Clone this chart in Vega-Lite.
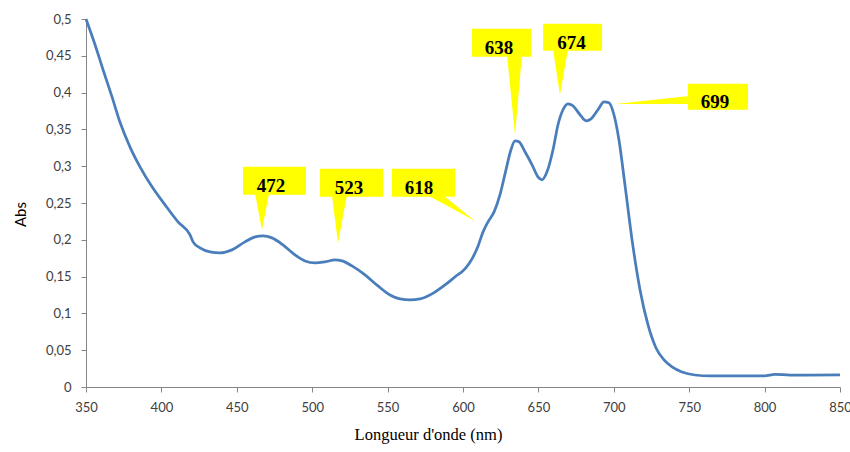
{
  "$schema": "https://vega.github.io/schema/vega-lite/v6.json",
  "width": 754,
  "height": 368,
  "autosize": {"type": "none"},
  "padding": {"left": 86, "top": 19, "right": 10, "bottom": 65},
  "background": "white",
  "config": {
    "view": {"stroke": null},
    "axis": {
      "grid": false,
      "domainColor": "#868686",
      "tickColor": "#868686",
      "tickSize": 5,
      "labelColor": "#404040",
      "labelFont": "Lato",
      "labelFontSize": 13,
      "labelOverlap": false,
      "labelFlush": false,
      "titleColor": "#000000",
      "titleFontWeight": "normal"
    },
    "axisY": {"titleFont": "Lato", "titleFontSize": 15}
  },
  "datasets": {
    "curve": [
      {"nm": 350, "abs": 0.5},
      {"nm": 356.0, "abs": 0.465},
      {"nm": 361.3, "abs": 0.4311},
      {"nm": 367.2, "abs": 0.3945},
      {"nm": 372.5, "abs": 0.3600},
      {"nm": 379.2, "abs": 0.3260},
      {"nm": 385.8, "abs": 0.2992},
      {"nm": 393.8, "abs": 0.272},
      {"nm": 402.4, "abs": 0.2475},
      {"nm": 411.0, "abs": 0.2244},
      {"nm": 419.0, "abs": 0.2067},
      {"nm": 421.0, "abs": 0.1972},
      {"nm": 425.6, "abs": 0.189},
      {"nm": 432.2, "abs": 0.1836},
      {"nm": 438.9, "abs": 0.1822},
      {"nm": 446.8, "abs": 0.1863},
      {"nm": 455.4, "abs": 0.1972},
      {"nm": 462.1, "abs": 0.204},
      {"nm": 467.4, "abs": 0.2053},
      {"nm": 473.3, "abs": 0.2026},
      {"nm": 480.6, "abs": 0.1931},
      {"nm": 488.6, "abs": 0.1795},
      {"nm": 495.2, "abs": 0.1713},
      {"nm": 501.9, "abs": 0.1686},
      {"nm": 508.5, "abs": 0.17},
      {"nm": 515.1, "abs": 0.1727},
      {"nm": 519.8, "abs": 0.1713},
      {"nm": 526.4, "abs": 0.1645},
      {"nm": 535.0, "abs": 0.1523},
      {"nm": 543.6, "abs": 0.1373},
      {"nm": 551.6, "abs": 0.1251},
      {"nm": 558.2, "abs": 0.1197},
      {"nm": 564.9, "abs": 0.1183},
      {"nm": 571.5, "abs": 0.1197},
      {"nm": 579.4, "abs": 0.1265},
      {"nm": 588.1, "abs": 0.1387},
      {"nm": 594.7, "abs": 0.1496},
      {"nm": 601.3, "abs": 0.1605},
      {"nm": 606.0, "abs": 0.1741},
      {"nm": 610.0, "abs": 0.1917},
      {"nm": 613.3, "abs": 0.2108},
      {"nm": 616.6, "abs": 0.2244},
      {"nm": 620.6, "abs": 0.238},
      {"nm": 624.5, "abs": 0.2611},
      {"nm": 628.5, "abs": 0.2951},
      {"nm": 631.8, "abs": 0.3223},
      {"nm": 634.5, "abs": 0.3345},
      {"nm": 637.1, "abs": 0.3332},
      {"nm": 641.1, "abs": 0.3196},
      {"nm": 645.8, "abs": 0.3019},
      {"nm": 649.7, "abs": 0.2856},
      {"nm": 652.4, "abs": 0.2815},
      {"nm": 655.7, "abs": 0.2923},
      {"nm": 659.7, "abs": 0.3223},
      {"nm": 663.0, "abs": 0.3563},
      {"nm": 666.3, "abs": 0.3767},
      {"nm": 669.6, "abs": 0.3848},
      {"nm": 672.9, "abs": 0.3821},
      {"nm": 677.6, "abs": 0.3699},
      {"nm": 681.6, "abs": 0.3617},
      {"nm": 684.9, "abs": 0.3644},
      {"nm": 689.5, "abs": 0.3767},
      {"nm": 693.5, "abs": 0.3875},
      {"nm": 696.8, "abs": 0.3862},
      {"nm": 700.1, "abs": 0.3699},
      {"nm": 703.4, "abs": 0.3359},
      {"nm": 707.4, "abs": 0.2747},
      {"nm": 712.1, "abs": 0.1999},
      {"nm": 717.4, "abs": 0.1319},
      {"nm": 722.7, "abs": 0.0843},
      {"nm": 728.0, "abs": 0.053},
      {"nm": 733.3, "abs": 0.0367},
      {"nm": 738.6, "abs": 0.0272},
      {"nm": 745.2, "abs": 0.0204},
      {"nm": 753.8, "abs": 0.0163},
      {"nm": 763.8, "abs": 0.015},
      {"nm": 783.7, "abs": 0.015},
      {"nm": 800.0, "abs": 0.0152},
      {"nm": 806.9, "abs": 0.0172},
      {"nm": 816.8, "abs": 0.0163},
      {"nm": 830.1, "abs": 0.0163},
      {"nm": 850, "abs": 0.0165}
    ],
    "pointers": [
      {"p": "472", "nm": 462.1, "abs": 0.263, "abs2": 0.263},
      {"p": "472", "nm": 466.7, "abs": 0.263, "abs2": 0.2135},
      {"p": "472", "nm": 471.4, "abs": 0.263, "abs2": 0.263},
      {"p": "523", "nm": 513.1, "abs": 0.261, "abs2": 0.261},
      {"p": "523", "nm": 517.1, "abs": 0.261, "abs2": 0.1958},
      {"p": "523", "nm": 523.1, "abs": 0.261, "abs2": 0.261},
      {"p": "618", "nm": 576.1, "abs": 0.261, "abs2": 0.261},
      {"p": "618", "nm": 586.7, "abs": 0.261, "abs2": 0.2493},
      {"p": "618", "nm": 608.0, "abs": 0.2257, "abs2": 0.2257},
      {"p": "638", "nm": 629.2, "abs": 0.451, "abs2": 0.451},
      {"p": "638", "nm": 634.5, "abs": 0.451, "abs2": 0.3427},
      {"p": "638", "nm": 639.1, "abs": 0.451, "abs2": 0.451},
      {"p": "674", "nm": 659.7, "abs": 0.459, "abs2": 0.459},
      {"p": "674", "nm": 664.3, "abs": 0.459, "abs2": 0.397},
      {"p": "674", "nm": 669.6, "abs": 0.459, "abs2": 0.459}
    ],
    "pointerH": [
      {"p": "699", "abs": 0.3845, "nm": 700.9, "nm2": 750},
      {"p": "699", "abs": 0.3955, "nm": 750, "nm2": 750}
    ],
    "boxes": [
      {"label": "472", "nm": 454.1, "nm2": 495.9, "abs": 0.2611, "abs2": 0.2992},
      {"label": "523", "nm": 505.2, "nm2": 547.0, "abs": 0.2584, "abs2": 0.2964},
      {"label": "618", "nm": 552.9, "nm2": 594.7, "abs": 0.2584, "abs2": 0.2964},
      {"label": "638", "nm": 606.0, "nm2": 645.1, "abs": 0.4487, "abs2": 0.4868},
      {"label": "674", "nm": 653.1, "nm2": 692.2, "abs": 0.4569, "abs2": 0.4936},
      {"label": "699", "nm": 749.2, "nm2": 789.0, "abs": 0.3767, "abs2": 0.412}
    ],
    "labels": [
      {"label": "472", "nm": 472.7, "abs": 0.2733},
      {"label": "523", "nm": 524.4, "abs": 0.2706},
      {"label": "618", "nm": 570.8, "abs": 0.2706},
      {"label": "638", "nm": 623.9, "abs": 0.461},
      {"label": "674", "nm": 671.9, "abs": 0.4678},
      {"label": "699", "nm": 767.1, "abs": 0.387}
    ]
  },
  "encoding": {
    "x": {
      "field": "nm", "type": "quantitative",
      "scale": {"domain": [350, 850], "nice": false},
      "axis": {
        "values": [350, 400, 450, 500, 550, 600, 650, 700, 750, 800, 850],
        "labelPadding": 9,
        "labelOverlap": false,
        "title": "Longueur d'onde (nm)",
        "titleFont": "Liberation Serif, Times New Roman, serif",
        "titleFontSize": 16.5,
        "titleX": 342,
        "titleY": 52,
        "titleAlign": "center",
        "titleBaseline": "alphabetic"
      }
    },
    "y": {
      "field": "abs", "type": "quantitative",
      "scale": {"domain": [0, 0.5], "nice": false},
      "axis": {
        "values": [0, 0.05, 0.1, 0.15, 0.2, 0.25, 0.3, 0.35, 0.4, 0.45, 0.5],
        "format": "~g",
        "labelExpr": "replace(datum.label, '.', ',')",
        "labelOverlap": false,
        "labelPadding": 10,
        "title": "Abs",
        "titleAngle": -90,
        "titleX": -66,
        "titleY": 195,
        "titleAlign": "center",
        "titleBaseline": "middle"
      }
    }
  },
  "layer": [
    {
      "data": {"name": "curve"},
      "mark": {"type": "line", "color": "#4a7ebb", "strokeWidth": 2.75, "interpolate": "monotone"}
    },
    {
      "data": {"name": "pointers"},
      "mark": {"type": "area", "color": "#ffff00", "orient": "vertical", "interpolate": "linear"},
      "encoding": {
        "y2": {"field": "abs2"},
        "detail": {"field": "p"}
      }
    },
    {
      "data": {"name": "pointerH"},
      "mark": {"type": "area", "color": "#ffff00", "orient": "horizontal", "interpolate": "linear"},
      "encoding": {
        "x2": {"field": "nm2"},
        "detail": {"field": "p"}
      }
    },
    {
      "data": {"name": "boxes"},
      "mark": {"type": "rect", "color": "#ffff00"},
      "encoding": {
        "x2": {"field": "nm2"},
        "y2": {"field": "abs2"}
      }
    },
    {
      "data": {"name": "labels"},
      "mark": {"type": "text", "font": "Liberation Serif, Times New Roman, serif", "fontWeight": "bold", "fontSize": 19, "color": "#000000", "align": "center", "baseline": "middle"},
      "encoding": {
        "text": {"field": "label"}
      }
    }
  ]
}
